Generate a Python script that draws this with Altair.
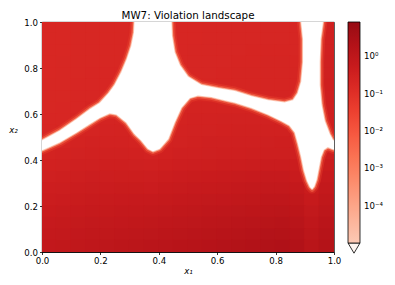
import altair as alt
import pandas as pd

# ---- data -------------------------------------------------------------------
X1_CENTERS = [0.025, 0.075, 0.125, 0.175, 0.225, 0.275, 0.325, 0.375, 0.425, 0.475,
              0.525, 0.575, 0.625, 0.675, 0.725, 0.775, 0.825, 0.875, 0.925, 0.975]
X2_CENTERS = [0.975, 0.925, 0.875, 0.825, 0.775, 0.725, 0.675, 0.625, 0.575, 0.525,
              0.475, 0.425, 0.375, 0.325, 0.275, 0.225, 0.175, 0.125, 0.075, 0.025]

# log10(violation) per cell, rows top (x2=0.975) to bottom (x2=0.025)
LOG_VIOL = [
    [-0.74, -0.73, -0.72, -0.72, -0.72, -0.72, -0.72, -0.70, -0.70, -0.70, -0.70, -0.69, -0.69, -0.68, -0.68, -0.68, -0.68, -0.68, -0.56, -0.46],
    [-0.74, -0.73, -0.72, -0.72, -0.72, -0.72, -0.72, -0.70, -0.70, -0.70, -0.70, -0.69, -0.69, -0.68, -0.68, -0.68, -0.68, -0.68, -0.56, -0.46],
    [-0.73, -0.73, -0.72, -0.72, -0.72, -0.72, -0.72, -0.70, -0.70, -0.70, -0.69, -0.69, -0.68, -0.68, -0.67, -0.67, -0.67, -0.68, -0.56, -0.46],
    [-0.73, -0.72, -0.72, -0.72, -0.72, -0.72, -0.71, -0.70, -0.70, -0.70, -0.69, -0.68, -0.68, -0.67, -0.67, -0.66, -0.66, -0.67, -0.56, -0.45],
    [-0.73, -0.72, -0.72, -0.71, -0.71, -0.71, -0.71, -0.70, -0.70, -0.69, -0.68, -0.68, -0.67, -0.66, -0.66, -0.65, -0.65, -0.66, -0.56, -0.45],
    [-0.72, -0.72, -0.71, -0.71, -0.71, -0.71, -0.70, -0.70, -0.69, -0.68, -0.67, -0.67, -0.66, -0.65, -0.65, -0.64, -0.64, -0.65, -0.56, -0.44],
    [-0.72, -0.72, -0.71, -0.71, -0.71, -0.68, -0.68, -0.68, -0.66, -0.66, -0.64, -0.64, -0.64, -0.64, -0.64, -0.63, -0.63, -0.64, -0.56, -0.44],
    [-0.72, -0.71, -0.71, -0.66, -0.64, -0.64, -0.62, -0.62, -0.62, -0.60, -0.59, -0.58, -0.58, -0.58, -0.58, -0.57, -0.56, -0.56, -0.56, -0.44],
    [-0.71, -0.70, -0.64, -0.63, -0.62, -0.62, -0.62, -0.62, -0.60, -0.58, -0.56, -0.55, -0.54, -0.54, -0.54, -0.53, -0.52, -0.51, -0.54, -0.43],
    [-0.68, -0.64, -0.62, -0.61, -0.60, -0.59, -0.59, -0.60, -0.58, -0.56, -0.54, -0.53, -0.52, -0.51, -0.51, -0.50, -0.49, -0.48, -0.52, -0.42],
    [-0.64, -0.61, -0.58, -0.56, -0.56, -0.56, -0.58, -0.60, -0.56, -0.53, -0.50, -0.48, -0.47, -0.46, -0.46, -0.45, -0.44, -0.46, -0.52, -0.40],
    [-0.58, -0.56, -0.54, -0.52, -0.51, -0.51, -0.52, -0.56, -0.52, -0.48, -0.46, -0.45, -0.44, -0.43, -0.42, -0.41, -0.41, -0.45, -0.55, -0.38],
    [-0.52, -0.50, -0.48, -0.46, -0.44, -0.44, -0.45, -0.48, -0.44, -0.40, -0.38, -0.37, -0.35, -0.34, -0.33, -0.32, -0.31, -0.35, -0.47, -0.30],
    [-0.46, -0.44, -0.41, -0.39, -0.38, -0.37, -0.37, -0.39, -0.35, -0.32, -0.30, -0.28, -0.27, -0.25, -0.23, -0.22, -0.22, -0.26, -0.38, -0.22],
    [-0.40, -0.38, -0.35, -0.33, -0.31, -0.30, -0.30, -0.31, -0.27, -0.24, -0.21, -0.20, -0.18, -0.16, -0.14, -0.13, -0.12, -0.16, -0.29, -0.14],
    [-0.34, -0.32, -0.29, -0.27, -0.24, -0.23, -0.22, -0.22, -0.19, -0.16, -0.13, -0.11, -0.09, -0.07, -0.05, -0.03, -0.02, -0.06, -0.20, -0.05],
    [-0.28, -0.25, -0.23, -0.20, -0.18, -0.16, -0.15, -0.14, -0.11, -0.07, -0.05, -0.03, 0.00, 0.02, 0.04, 0.06, 0.08, 0.04, -0.11, 0.03],
    [-0.22, -0.19, -0.17, -0.14, -0.11, -0.09, -0.07, -0.06, -0.02, 0.01, 0.03, 0.06, 0.09, 0.11, 0.14, 0.16, 0.18, 0.14, -0.02, 0.11],
    [-0.16, -0.13, -0.10, -0.07, -0.05, -0.02, 0.00, 0.03, 0.06, 0.09, 0.12, 0.15, 0.17, 0.20, 0.23, 0.26, 0.27, 0.23, 0.07, 0.19],
    [-0.10, -0.07, -0.04, -0.01, 0.02, 0.05, 0.08, 0.11, 0.14, 0.17, 0.20, 0.23, 0.26, 0.29, 0.32, 0.35, 0.37, 0.33, 0.15, 0.27],
]

# outline of the feasible (zero-violation) region
FEAS_X1 = [-0.03, 0.0, 0.061, 0.118, 0.163, 0.198, 0.232, 0.255, 0.289, 0.317, 0.340, 0.363,
           0.380, 0.403, 0.432, 0.454, 0.477, 0.506, 0.534, 0.580, 0.637, 0.660, 0.717,
           0.774, 0.820, 0.848, 0.866, 0.877, 0.888, 0.897, 0.908, 0.918, 0.925, 0.932,
           0.940, 0.947, 0.955, 0.965, 0.979, 0.997, 1.03,
           1.03, 0.997, 0.985, 0.968, 0.957, 0.951, 0.951, 0.954, 0.962, 0.962,
           0.888, 0.888, 0.894, 0.894, 0.888, 0.876, 0.860, 0.831, 0.774, 0.717, 0.660,
           0.603, 0.546, 0.500, 0.472, 0.454, 0.445, 0.443, 0.443,
           0.317, 0.317, 0.315, 0.306, 0.291, 0.272, 0.249, 0.229, 0.198, 0.163, 0.118,
           0.061, 0.0, -0.03, -0.03]
FEAS_X2 = [0.442, 0.442, 0.477, 0.520, 0.556, 0.584, 0.603, 0.598, 0.563, 0.513, 0.485, 0.449,
           0.438, 0.449, 0.491, 0.563, 0.627, 0.670, 0.680, 0.674, 0.656, 0.650, 0.627,
           0.598, 0.570, 0.550, 0.520, 0.470, 0.413, 0.356, 0.310, 0.283, 0.274, 0.285,
           0.314, 0.360, 0.413, 0.445, 0.456, 0.447, 0.445,
           0.485, 0.485, 0.513, 0.570, 0.641, 0.726, 0.826, 0.926, 1.0, 1.03,
           1.03, 1.0, 0.926, 0.826, 0.741, 0.690, 0.660, 0.650, 0.660, 0.677, 0.700,
           0.712, 0.726, 0.762, 0.812, 0.869, 0.940, 1.0, 1.03,
           1.03, 1.0, 0.953, 0.896, 0.839, 0.782, 0.726, 0.691, 0.648, 0.620, 0.577,
           0.527, 0.485, 0.485, 0.442]

TICKS = [0.0, 0.2, 0.4, 0.6, 0.8, 1.0]
CBAR_TICKS = [1e-4, 1e-3, 1e-2, 1e-1, 1.0]
CBAR_DOMAIN = [1e-5, 8.3]

# ---- tables -----------------------------------------------------------------
half = 0.0275
rows = []
for r, x2c in enumerate(X2_CENTERS):
    for c, x1c in enumerate(X1_CENTERS):
        rows.append({"xa": x1c - half, "xb": x1c + half,
                     "ya": x2c - half, "yb": x2c + half,
                     "v": 10 ** LOG_VIOL[r][c]})
cells = pd.DataFrame(rows)
poly = pd.DataFrame({"px": FEAS_X1, "py": FEAS_X2, "i": list(range(len(FEAS_X1)))})

FONT = "DejaVu Sans"
xs = alt.Scale(domain=[0, 1], nice=False, zero=False, padding=0)
ys = alt.Scale(domain=[0, 1], nice=False, zero=False, padding=0)
axis_common = dict(values=TICKS, format=".1f", grid=False, tickSize=2.5, tickWidth=0.8,
                   tickColor="black", domainColor="black", domainWidth=0.8,
                   labelFont=FONT, labelFontSize=8.6, labelColor="black", labelFlush=False,
                   titleFont=FONT, titleFontSize=8.6, titleFontWeight="normal",
                   titleFontStyle="italic", titleColor="black")
x_axis = alt.Axis(title="x₁", titlePadding=1, labelPadding=2, **axis_common)
y_axis = alt.Axis(title="x₂", titleAngle=0, titleX=-29, titleY=107, titleAlign="center",
                  titleBaseline="middle", labelPadding=2, **axis_common)

label_expr = ("datum.value >= 0.5 ? '10⁰' : datum.value >= 0.05 ? '10⁻¹' : "
              "datum.value >= 0.005 ? '10⁻²' : datum.value >= 0.0005 ? '10⁻³' : '10⁻⁴'")

heat = alt.Chart(cells).mark_rect(clip=True).encode(
    x=alt.X("xa:Q", scale=xs, axis=x_axis),
    x2="xb:Q",
    y=alt.Y("ya:Q", scale=ys, axis=y_axis),
    y2="yb:Q",
    color=alt.Color("v:Q",
                    scale=alt.Scale(type="log", domain=CBAR_DOMAIN, scheme="reds"),
                    legend=alt.Legend(orient="none", legendX=306, legendY=0,
                                      direction="vertical", title=None,
                                      gradientLength=221, gradientThickness=12,
                                      gradientStrokeColor="black", gradientStrokeWidth=0.8,
                                      values=CBAR_TICKS, labelExpr=label_expr,
                                      labelFont=FONT, labelFontSize=8.6, labelColor="black",
                                      labelOffset=4, padding=0)),
)

def poly_layer(**mark):
    return alt.Chart(poly).mark_line(clip=True, strokeJoin="round", **mark).encode(
        x=alt.X("px:Q", scale=xs, axis=x_axis),
        y=alt.Y("py:Q", scale=ys, axis=y_axis),
        order="i:Q",
    )

fade1 = poly_layer(stroke="#e8402c", strokeWidth=9, strokeOpacity=0.4)
fade2 = poly_layer(stroke="#f36247", strokeWidth=5.5, strokeOpacity=0.65)
fade3 = poly_layer(stroke="#fcae92", strokeWidth=2.5, strokeOpacity=0.9)
fill = poly_layer(fill="white", stroke="white", strokeWidth=0.5)

tri = alt.Chart(pd.DataFrame({"k": [0]})).mark_point(
    shape="M -1 0 L 1 0 L 0 1.7 Z", size=144, filled=True, fill="#fff5f0",
    stroke="black", strokeWidth=0.8, opacity=1, clip=False,
).encode(x=alt.value(312), y=alt.value(221))

chart = alt.layer(heat, fade1, fade2, fade3, fill, tri).properties(
    width=292, height=230,
    title=alt.TitleParams("MW7: Violation landscape", font=FONT, fontSize=10.3,
                          fontWeight="normal", color="black", anchor="middle",
                          offset=0, dy=3),
    autosize="none",
    padding={"left": 34, "top": 14, "right": 50, "bottom": 25},
).configure_view(stroke="black", strokeWidth=0.8)

chart.save("out.html", embed_options={"renderer": "svg", "actions": False})
